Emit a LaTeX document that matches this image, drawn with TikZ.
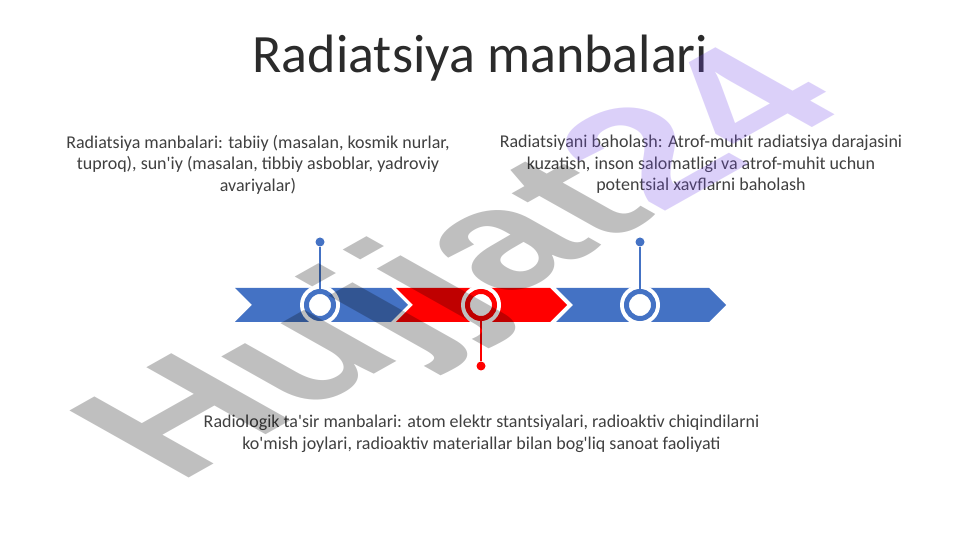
\documentclass[tikz,border=0pt]{standalone}
\usepackage{fontspec}
\setmainfont{Carlito}[Ligatures=TeXOff]
\newfontfamily\markfont{Liberation Sans}
\usepackage{tikz}

\definecolor{barblue}{HTML}{4472C4}
\definecolor{barred}{HTML}{FF0000}
\definecolor{textgray}{HTML}{404040}
\definecolor{titlegray}{HTML}{2B2B2B}
\definecolor{markviolet}{RGB}{115,70,235}

\begin{document}
\begin{tikzpicture}[x=1pt, y=1pt]
		\tikzset{ring/.style={shape = circle, fill = white, minimum size = 40pt, inner sep = 0pt, outer sep = -4pt,
				path picture={\draw[draw = #1, line width = 5pt] (path picture bounding box.center) circle (13.5pt);}}}
		\tikzset{dot/.style={shape = circle, fill = #1, minimum size = 9pt, inner sep = 0pt}}
		\tikzset{stem/.style={draw = #1, line width = 1.5pt}}
		\tikzset{note/.style={align = center, text = textgray, inner sep = 0pt, font = \fontsize{18}{21.6}\selectfont}}
		\tikzset{heading/.style={text = titlegray, inner sep = 0pt, font = \fontsize{54}{60}\selectfont}}
		\tikzset{watermark/.style={inner sep = 0pt, text opacity = 0.25, font = \markfont\bfseries\fontsize{245}{245}\selectfont}}
		\useasboundingbox[fill = white] (0, 0) rectangle (961, 540);
		%bar
		\fill[barblue] (235, 218) -- (391, 218) -- (408, 235) -- (391, 252) -- (235, 252) -- (252, 235) -- cycle;
		\fill[barred] (396, 218) -- (550, 218) -- (567, 235) -- (550, 252) -- (396, 252) -- (413, 235) -- cycle;
		\fill[barblue] (556, 218) -- (709, 218) -- (726, 235) -- (709, 252) -- (556, 252) -- (573, 235) -- cycle;
		%rings and dots
		\node[ring = barblue] (ring1) at (320, 235) {};
		\node[ring = barred] (ring2) at (481, 235) {};
		\node[ring = barblue] (ring3) at (640, 235) {};
		\node[dot = barblue] (dot1) at (320, 298) {};
		\node[dot = barred] (dot2) at (481, 174) {};
		\node[dot = barblue] (dot3) at (640, 298) {};
		%stems
		\draw[stem = barblue] (dot1) -- (ring1);
		\draw[stem = barred] (dot2) -- (ring2);
		\draw[stem = barblue] (dot3) -- (ring3);
		%text
		\node[heading, anchor = base] (title) at (480.5, 467) {Radiatsiya manbalari};
		\node[note] (natural) at (258, 375.5) {Radiatsiya manbalari: tabiiy (masalan, kosmik nurlar,\\tuproq), sun'iy (masalan, tibbiy asboblar, yadroviy\\avariyalar)};
		\node[note] (assess) at (701, 375.5) {Radiatsiyani baholash: Atrof-muhit radiatsiya darajasini\\kuzatish, inson salomatligi va atrof-muhit uchun\\potentsial xavflarni baholash};
		\node[note] (exposure) at (481.5, 106) {Radiologik ta'sir manbalari: atom elektr stantsiyalari, radioaktiv chiqindilarni\\ko'mish joylari, radioaktiv materiallar bilan bog'liq sanoat faoliyati};
		%watermark
		\begin{scope}[shift={(470, 270)}, yscale = 0.5625, rotate = 45]
		\node[watermark, transform shape] (wm) at (0, 0) {\color{black}Hujjat\color{markviolet}24};
		\end{scope}
		\end{tikzpicture}
\end{document}
